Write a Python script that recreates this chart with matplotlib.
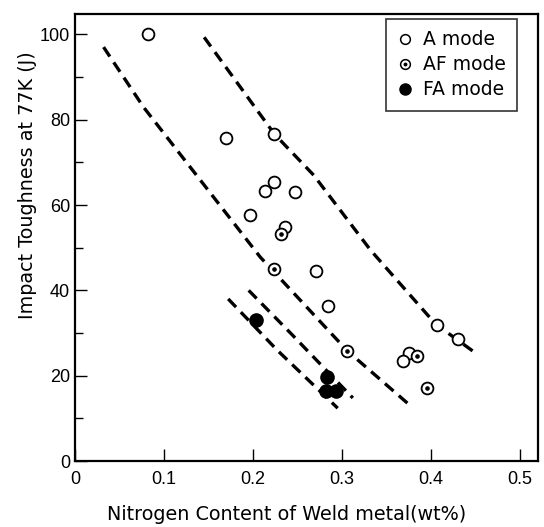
import matplotlib
matplotlib.use("Agg")
import matplotlib.pyplot as plt
from matplotlib.lines import Line2D

plt.rcParams['font.family'] = ['Liberation Sans', 'DejaVu Sans']

# data
a_x = [0.082, 0.169, 0.224, 0.224, 0.213, 0.247, 0.196, 0.236, 0.271, 0.284, 0.407, 0.430, 0.375, 0.368]
a_y = [100, 75.6, 76.6, 65.3, 63.2, 63.0, 57.6, 54.8, 44.5, 36.3, 32.0, 28.6, 25.3, 23.4]

af_x = [0.231, 0.223, 0.306, 0.384, 0.395]
af_y = [53.2, 45.0, 25.8, 24.6, 17.1]

fa_x = [0.203, 0.283, 0.282, 0.293]
fa_y = [33.0, 19.7, 16.4, 16.4]

# dashed trend curves
l1_x = [0.032, 0.077, 0.208, 0.306, 0.376]
l1_y = [97.0, 82.9, 47.8, 25.8, 13.1]
r_x = [0.145, 0.224, 0.268, 0.332, 0.405, 0.452]
r_y = [99.3, 76.6, 67.0, 49.4, 32.1, 25.0]
s1_x = [0.172, 0.227, 0.295]
s1_y = [38.0, 26.0, 12.4]
s2_x = [0.195, 0.242, 0.312]
s2_y = [40.0, 30.0, 14.8]

fig = plt.figure(figsize=(5.44, 5.27), dpi=100)
ax = fig.add_axes([0.138, 0.125, 0.851, 0.848])

dash = dict(color='black', lw=2.4, dashes=(3.4, 2.1), zorder=2)
for xs, ys in [(l1_x, l1_y), (r_x, r_y), (s1_x, s1_y), (s2_x, s2_y)]:
    ax.plot(xs, ys, **dash)

ax.plot(a_x, a_y, 'o', ms=8.5, mfc='white', mec='black', mew=1.3, zorder=3)
ax.plot(af_x, af_y, 'o', ms=8.5, mfc='white', mec='black', mew=1.3, zorder=3)
ax.plot(af_x, af_y, 'o', ms=2.3, mfc='black', mec='black', zorder=4)
ax.plot(fa_x, fa_y, 'o', ms=9.5, mfc='black', mec='black', zorder=3)

ax.set_xlim(0, 0.52)
ax.set_ylim(0, 104.7)
ax.set_xticks([0, 0.1, 0.2, 0.3, 0.4, 0.5])
ax.set_xticklabels(['0', '0.1', '0.2', '0.3', '0.4', '0.5'])
ax.set_yticks([0, 20, 40, 60, 80, 100])
ax.set_yticks([10, 30, 50, 70, 90], minor=True)
ax.tick_params(axis='both', direction='in', length=8.5, width=1.0, labelsize=13)
ax.tick_params(axis='y', which='minor', direction='in', length=5.5, width=1.0)
ax.tick_params(axis='x', pad=7)
ax.tick_params(top=False, right=False)
for s in ax.spines.values():
    s.set_linewidth(1.6)

lab = dict(fontsize=13.8, family=['DejaVu Sans'])
ax.set_xlabel('Nitrogen Content of Weld metal(wt%)', **lab)
ax.set_ylabel('Impact Toughness at 77K (J)', **lab)
ax.xaxis.set_label_coords(0.456, -0.098)
ax.yaxis.set_label_coords(-0.082, 0.617)

h_a = Line2D([], [], ls='none', marker='o', ms=7, mfc='white', mec='black', mew=1.1)
h_af = (Line2D([], [], ls='none', marker='o', ms=7, mfc='white', mec='black', mew=1.1),
        Line2D([], [], ls='none', marker='o', ms=1.8, mfc='black', mec='black'))
h_fa = Line2D([], [], ls='none', marker='o', ms=8, mfc='black', mec='black')
leg = ax.legend([h_a, h_af, h_fa], ['A mode', 'AF mode', 'FA mode'],
                loc='upper right', bbox_to_anchor=(0.955, 0.989),
                prop={'family': 'DejaVu Sans', 'size': 13.5},
                frameon=True, fancybox=False, edgecolor='black', handlelength=0.9,
                handletextpad=0.5, borderpad=0.6, labelspacing=0.32,
                borderaxespad=0)
leg.get_frame().set_linewidth(1.2)

fig.savefig('out.png', dpi=100)
